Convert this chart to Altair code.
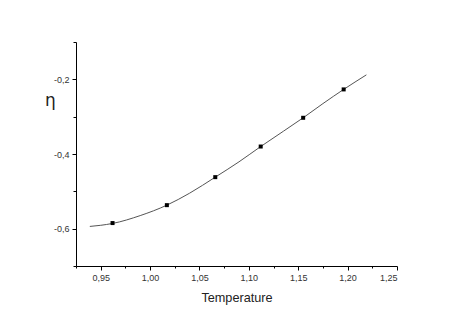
import altair as alt
import pandas as pd

# measured points
pt_x = [0.962, 1.017, 1.066, 1.112, 1.155, 1.196]
pt_y = [-0.585, -0.537, -0.462, -0.380, -0.303, -0.227]

# fitted curve
cv_x = [0.939, 0.950, 0.962, 0.990, 1.017, 1.040, 1.066, 1.090, 1.112, 1.135, 1.155, 1.175, 1.196, 1.219]
cv_y = [-0.594, -0.591, -0.586, -0.565, -0.537, -0.505, -0.462, -0.421, -0.380, -0.339, -0.303, -0.265, -0.227, -0.188]

x_ticks = [0.95, 1.0, 1.05, 1.1, 1.15, 1.2, 1.25]
x_minor = [0.925, 0.975, 1.025, 1.075, 1.125, 1.175, 1.225]
y_ticks = [-0.6, -0.4, -0.2]
y_minor = [-0.7, -0.5, -0.3, -0.1]

pts = pd.DataFrame({"x": pt_x, "y": pt_y})
cv = pd.DataFrame({"x": cv_x, "y": cv_y})

xscale = alt.Scale(domain=[0.925, 1.25], nice=False, zero=False)
yscale = alt.Scale(domain=[-0.7, -0.1], nice=False, zero=False)

common = dict(grid=False, domainColor="black", tickColor="black", labelColor="#333",
              labelFontSize=9, labelPadding=3)

xaxis = alt.Axis(
    values=x_ticks, title="Temperature", orient="bottom",
    labelExpr="replace(format(datum.value, '.2f'), '.', ',')",
    tickSize=4,
    titleFont="Liberation Sans", titleFontSize=12.7, titleFontWeight="normal",
    titleColor="#222", titlePadding=9, **common,
)
yaxis = alt.Axis(
    values=y_ticks, title="η", orient="left",
    labelExpr="replace(replace(format(datum.value, '.1f'), '.', ','), '\u2212', '-')",
    tickSize=4,
    titleFont="DejaVu Sans", titleFontSize=17, titleFontWeight="normal",
    titleColor="#222", titleAngle=0, titleX=-26, titleY=58,
    titleAlign="center", titleBaseline="middle", **common,
)
xaxis_minor = alt.Axis(values=x_minor, orient="bottom", labels=False, title=None,
                       tickSize=2, domain=False, grid=False, tickColor="black")
yaxis_minor = alt.Axis(values=y_minor, orient="left", labels=False, title=None,
                       tickSize=3, domain=False, grid=False, tickColor="black")

line = alt.Chart(cv).mark_line(color="#555", strokeWidth=1, interpolate="monotone").encode(
    x=alt.X("x:Q", scale=xscale, axis=xaxis),
    y=alt.Y("y:Q", scale=yscale, axis=yaxis),
)
dots = alt.Chart(pts).mark_square(color="black", size=16, opacity=1).encode(
    x=alt.X("x:Q", scale=xscale, axis=xaxis_minor),
    y=alt.Y("y:Q", scale=yscale, axis=yaxis_minor),
)

chart = alt.layer(line, dots).resolve_axis(x="independent", y="independent").properties(
    width=321, height=224,
    background="white",
    autosize=alt.AutoSizeParams(type="none"),
    padding={"left": 68, "top": 34, "right": 30, "bottom": 40},
).configure_view(stroke=None)

chart.save("out.html", embed_options={"renderer": "svg", "actions": False})
